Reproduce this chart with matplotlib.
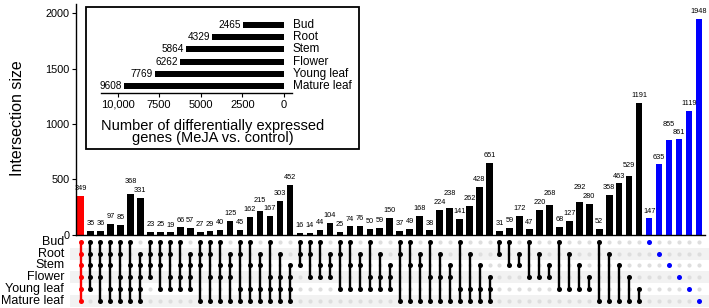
import matplotlib
matplotlib.use("Agg")
import matplotlib.pyplot as plt
from matplotlib.patches import Rectangle
import matplotlib.transforms as mtransforms

plt.rcParams['font.family'] = ['Liberation Sans', 'DejaVu Sans']

# ---------------- data ----------------
set_names = ["Bud", "Root", "Stem", "Flower", "Young leaf", "Mature leaf"]
set_codes = ["B", "R", "S", "F", "Y", "M"]
set_sizes = [2465, 4329, 5864, 6262, 7769, 9608]

intersections = [
    "BRSFYM",
    "BRSFY", "BRSFM", "BRSYM", "BRFYM", "BSFYM", "RSFYM",
    "BRSF", "BRSY", "BRFY", "BSFY", "RSFY", "BRSM", "BRFM", "BSFM", "RSFM",
    "BRYM", "BSYM", "RSYM", "BFYM", "RFYM", "SFYM",
    "BRS", "BRF", "BSF", "RSF", "BRY", "BSY", "RSY", "BFY", "RFY", "SFY",
    "BRM", "BSM", "RSM", "BFM", "RFM", "SFM", "BYM", "RYM", "SYM", "FYM",
    "BR", "BS", "RS", "BF", "RF", "SF", "BY", "RY", "SY", "FY",
    "BM", "RM", "SM", "FM", "YM",
    "B", "R", "S", "F", "Y", "M",
]
counts = [
    349,
    35, 36, 97, 85, 368, 331,
    23, 25, 19, 66, 57, 27, 29, 40, 125, 45, 162, 215, 167, 303, 452,
    16, 14, 44, 104, 25, 74, 76, 50, 59, 150, 37, 49, 168, 38, 224, 238, 141, 262, 428, 651,
    31, 59, 172, 47, 220, 268, 68, 127, 292, 280, 52, 358, 463, 529, 1191,
    147, 635, 855, 861, 1119, 1948,
]

# extra upward nudge (pixels) of some value labels, as in the reference (repelled labels)
label_nudge_px = {5: 5, 18: 3, 37: 7, 47: 4, 50: 8, 55: 3, 59: 8}

# ---------------- layout helpers ----------------
W, H = 709, 308
fig = plt.figure(figsize=(W / 100, H / 100), dpi=100)


def px_axes(l, t, r, b):
    return fig.add_axes([l / W, 1 - b / H, (r - l) / W, (b - t) / H])


def col_color(code):
    if len(code) == len(set_codes):
        return "#ff0000"
    if len(code) == 1:
        return "#0000ff"
    return "black"


n = len(intersections)
xs = list(range(n))
colors = [col_color(c) for c in intersections]

x0, dx = 80.5, 9.976
PT = 72 / 100  # points per pixel

# ---------------- intersection bars ----------------
ax = px_axes(76, 4, 705, 234.6)
ax.bar(xs, counts, width=0.66, color=colors, zorder=2)
ax.set_xlim((76 - x0) / dx, (705 - x0) / dx)
ax.set_ylim(0, (234.6 - 4) / 55.3 * 500)
for x, c in zip(xs, counts):
    off = 7.3 + label_nudge_px.get(x, 0)
    ax.annotate(str(c), (x, c), xytext=(0, off * PT), textcoords="offset points",
                ha="center", va="center", fontsize=5.3)
ax.set_yticks([0, 500, 1000, 1500, 2000])
ax.tick_params(axis="y", labelsize=7.8, length=3, width=0.8, pad=1.5)
ax.set_xticks([])
for s in ["top", "right"]:
    ax.spines[s].set_visible(False)
ax.spines["left"].set_linewidth(1.0)
ax.spines["bottom"].set_linewidth(1.0)
fig.text(18 / W, 1 - 118 / H, "Intersection size", rotation=90,
         ha="center", va="center", fontsize=11.5)

# ---------------- matrix ----------------
axm = px_axes(70, 235.8, 709, 307)
axm.set_xlim((70 - x0) / dx, (709 - x0) / dx)
axm.set_ylim(5.5, -0.5)
axm.axis("off")
for r in range(len(set_names)):
    if r % 2 == 1:
        axm.axhspan(r - 0.5, r + 0.5, color="#f2f2f2", lw=0, zorder=0)
for x in xs:
    axm.scatter([x] * len(set_names), range(len(set_names)), s=9,
                color="#dedede", lw=0, zorder=1)
for x, code, col in zip(xs, intersections, colors):
    rows = [set_codes.index(ch) for ch in code]
    if len(rows) > 1:
        axm.plot([x, x], [min(rows), max(rows)], color=col, lw=1.7,
                 solid_capstyle="butt", zorder=2)
    axm.scatter([x] * len(rows), rows, s=13, color=col, lw=0, zorder=3)
trans = mtransforms.blended_transform_factory(axm.transAxes, axm.transData)
for r, name in enumerate(set_names):
    axm.text(-0.009, r, name, transform=trans, ha="right", va="center",
             fontsize=9)

# ---------------- inset: set sizes ----------------
axi = px_axes(101, 18, 292, 93)
axi.barh(range(len(set_names)), set_sizes, height=0.5, color="black")
axi.set_xlim((284 - 101) / 16.65 * 1000, (284 - 292) / 16.65 * 1000)
axi.set_ylim(5.57, -0.57)
for r, v in enumerate(set_sizes):
    axi.text(v + 120, r, str(v), ha="right", va="center", fontsize=7.2)
transi = mtransforms.blended_transform_factory(axi.transAxes, axi.transData)
for r, name in enumerate(set_names):
    axi.text(1.005, r, name, transform=transi, ha="left", va="center",
             fontsize=8.5)
axi.set_xticks([10000, 7500, 5000, 2500, 0])
axi.set_xticklabels(["10,000", "7500", "5000", "2500", "0"])
axi.tick_params(axis="x", labelsize=8, length=3, width=0.8, pad=2)
axi.set_yticks([])
for s in ["top", "right", "left"]:
    axi.spines[s].set_visible(False)
axi.spines["bottom"].set_linewidth(1.0)
fig.text(213 / W, 1 - 132 / H,
         "Number of differentially expressed\ngenes (MeJA vs. control)",
         ha="center", va="center", fontsize=10.5, linespacing=0.85)
fig.add_artist(Rectangle((86 / W, 1 - 149 / H), (359 - 86) / W, (149 - 7) / H,
                         transform=fig.transFigure, fill=False, lw=1.3,
                         ec="black"))

fig.savefig("out.png", dpi=100)
